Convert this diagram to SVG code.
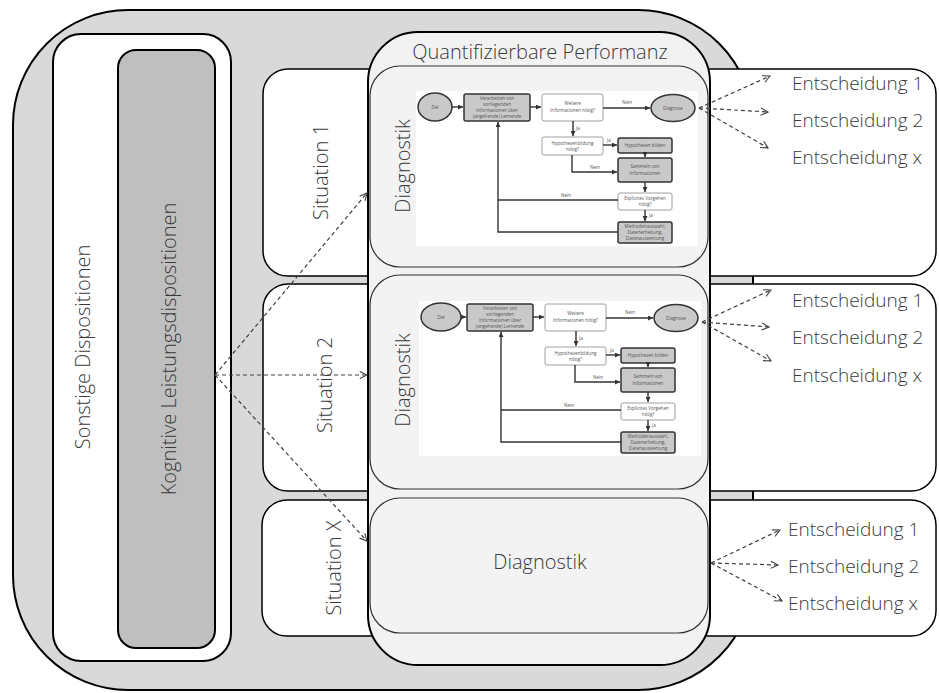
<svg xmlns="http://www.w3.org/2000/svg" width="939" height="693" viewBox="0 0 939 693">
  <style>
    .lbl { font-family: "Open Sans", "Noto Sans", "Liberation Sans", sans-serif; font-weight: 300; fill: #3a3a3a; }
    .big { font-size: 20px; }
    .ent { font-size: 19px; }
    .sit { fill: #ffffff; stroke: #000000; stroke-width: 1.5; }
    .diag { fill: #f3f3f3; stroke: #333333; stroke-width: 1.2; }
    .dash { fill: none; stroke: #404040; stroke-width: 1.2; stroke-dasharray: 4 3; marker-end: url(#open); }
    .ft { font-family: "Open Sans", "Noto Sans", "Liberation Sans", sans-serif; font-size: 4.6px; fill: #555555; text-anchor: middle; }
    .fg { fill: #c9c9c9; stroke: #333333; stroke-width: 1.5; }
    .fw { fill: #ffffff; stroke: #a0a0a0; stroke-width: 1; }
    .fl { fill: none; stroke: #333333; stroke-width: 1.4; }
    .fla { fill: none; stroke: #333333; stroke-width: 1.4; marker-end: url(#solid); }
  </style>
  <defs>
    <marker id="open" viewBox="0 0 10 10" refX="9" refY="5" markerWidth="9" markerHeight="9" markerUnits="userSpaceOnUse" orient="auto">
      <path d="M1,1 L9,5 L1,9" fill="none" stroke="#404040" stroke-width="1.2"/>
    </marker>
    <marker id="solid" viewBox="0 0 6 6" refX="6" refY="3" markerWidth="5" markerHeight="5" markerUnits="userSpaceOnUse" orient="auto">
      <path d="M0,0 L6,3 L0,6 z" fill="#333333"/>
    </marker>
  </defs>

  <!-- outer frame -->
  <g id="frame">
    <rect x="13" y="10" width="740" height="680" rx="115" fill="#d9d9d9" stroke="#000" stroke-width="2"/>
  </g>

  <!-- dispositions -->
  <g id="sonstige">
    <rect x="53" y="34" width="178" height="627" rx="28" fill="#ffffff" stroke="#000" stroke-width="2"/>
    <text class="lbl big" transform="translate(82,347) rotate(-90)" text-anchor="middle" dominant-baseline="central">Sonstige Dispositionen</text>
  </g>
  <g id="kognitiv">
    <rect x="118" y="50" width="97" height="598" rx="18" fill="#bfbfbf" stroke="#000" stroke-width="2"/>
    <text class="lbl big" transform="translate(168,349) rotate(-90)" text-anchor="middle" dominant-baseline="central">Kognitive Leistungsdispositionen</text>
  </g>

  <!-- situation rows -->
  <g id="situation1">
    <rect class="sit" x="263" y="69" width="673" height="207" rx="25"/>
    <text class="lbl big" transform="translate(320,172) rotate(-90)" text-anchor="middle" dominant-baseline="central">Situation 1</text>
  </g>
  <g id="situation2">
    <rect class="sit" x="263" y="284" width="673" height="207" rx="25"/>
    <text class="lbl big" transform="translate(324,385) rotate(-90)" text-anchor="middle" dominant-baseline="central">Situation 2</text>
  </g>
  <g id="situationX">
    <rect class="sit" x="262" y="500" width="674" height="136" rx="25"/>
    <text class="lbl big" transform="translate(333,568) rotate(-90)" text-anchor="middle" dominant-baseline="central">Situation X</text>
  </g>

  <!-- performance column -->
  <g id="performanz">
    <rect x="368" y="32" width="342" height="633" rx="50" fill="#f2f2f2" stroke="#000" stroke-width="2"/>
    <text class="lbl big" x="540" y="59" text-anchor="middle">Quantifizierbare Performanz</text>
  </g>

  <g id="diagnostik1">
    <rect class="diag" x="370" y="66" width="338" height="201" rx="30"/>
    <text class="lbl big" transform="translate(402,166) rotate(-90)" text-anchor="middle" dominant-baseline="central">Diagnostik</text>
  </g>
  <g id="diagnostik2">
    <rect class="diag" x="370" y="275" width="338" height="214" rx="30"/>
    <text class="lbl big" transform="translate(402,380) rotate(-90)" text-anchor="middle" dominant-baseline="central">Diagnostik</text>
  </g>
  <g id="diagnostik3">
    <rect class="diag" x="370" y="498" width="338" height="135" rx="30"/>
    <text class="lbl big" x="540" y="569" text-anchor="middle">Diagnostik</text>
  </g>

  <!-- diagnostic process chart, first copy -->
  <g id="ablauf1">
    <rect x="416" y="91" width="282" height="155" fill="#ffffff"/>
    <g id="ablauf1-ziel"><ellipse class="fg" cx="435" cy="107" rx="17" ry="14" stroke-width="1"/><text class="ft" x="435" y="108.5">Ziel</text></g>
    <g id="ablauf1-verarbeiten"><rect class="fg" x="464" y="94" width="66" height="27" rx="2"/>
      <text class="ft" x="497" y="100">Verarbeiten von</text><text class="ft" x="497" y="106">vorliegenden</text><text class="ft" x="497" y="112">Informationen über</text><text class="ft" x="497" y="118">(angehende) Lernende</text></g>
    <g id="ablauf1-weitere"><rect class="fw" x="542" y="94" width="61" height="27" rx="2"/>
      <text class="ft" x="572.5" y="105">Weitere</text><text class="ft" x="572.5" y="112">Informationen nötig?</text></g>
    <g id="ablauf1-diagnose"><ellipse class="fg" cx="673" cy="108" rx="22" ry="13.5" stroke-width="1.2"/><text class="ft" x="673" y="109.5">Diagnose</text></g>
    <g id="ablauf1-hypothesenbildung"><rect class="fw" x="542" y="137" width="61" height="18" rx="2"/>
      <text class="ft" x="572.5" y="144.5">Hypothesenbildung</text><text class="ft" x="572.5" y="151">nötig?</text></g>
    <g id="ablauf1-hypothesen"><rect class="fg" x="618" y="138" width="54" height="15" rx="2"/><text class="ft" x="645" y="147">Hypothesen bilden</text></g>
    <g id="ablauf1-sammeln"><rect class="fg" x="618" y="158" width="54" height="24" rx="2"/>
      <text class="ft" x="645" y="168">Sammeln von</text><text class="ft" x="645" y="175">Informationen</text></g>
    <g id="ablauf1-explizit"><rect class="fw" x="618" y="193" width="54" height="17" rx="2"/>
      <text class="ft" x="645" y="200">Explizites Vorgehen</text><text class="ft" x="645" y="206">nötig?</text></g>
    <g id="ablauf1-methoden"><rect class="fg" x="618" y="222" width="54" height="21" rx="2"/>
      <text class="ft" x="645" y="228">Methodenauswahl,</text><text class="ft" x="645" y="234">Datenerhebung,</text><text class="ft" x="645" y="240">Datenauswertung</text></g>
    <g id="ablauf1-kanten">
      <path class="fla" d="M452,107 H463"/>
      <path class="fla" d="M530,107 H541"/>
      <path class="fla" d="M603,108 H650"/>
      <path class="fla" d="M573,121 V136"/>
      <path class="fla" d="M603,145 H617"/>
      <path class="fla" d="M645,153 V157"/>
      <path class="fla" d="M572,155 V172 H617"/>
      <path class="fla" d="M645,182 V192"/>
      <path class="fl" d="M618,200 H498"/>
      <path class="fla" d="M645,210 V221"/>
      <path class="fla" d="M618,232 H498 V122"/>
      <text class="ft" x="627" y="104">Nein</text>
      <text class="ft" x="578" y="130">Ja</text>
      <text class="ft" x="609" y="142">Ja</text>
      <text class="ft" x="595" y="169">Nein</text>
      <text class="ft" x="566" y="197">Nein</text>
      <text class="ft" x="651" y="217">Ja</text>
    </g>
  </g>

  <!-- diagnostic process chart, second copy -->
  <g id="ablauf2" transform="translate(3,210)">
    <rect x="416" y="91" width="282" height="155" fill="#ffffff"/>
    <g id="ablauf2-ziel"><ellipse class="fg" cx="438" cy="107" rx="20" ry="14" stroke-width="1"/><text class="ft" x="438" y="108.5">Ziel</text></g>
    <g id="ablauf2-verarbeiten"><rect class="fg" x="464" y="94" width="66" height="27" rx="2"/>
      <text class="ft" x="497" y="100">Verarbeiten von</text><text class="ft" x="497" y="106">vorliegenden</text><text class="ft" x="497" y="112">Informationen über</text><text class="ft" x="497" y="118">(angehende) Lernende</text></g>
    <g id="ablauf2-weitere"><rect class="fw" x="542" y="94" width="61" height="27" rx="2"/>
      <text class="ft" x="572.5" y="105">Weitere</text><text class="ft" x="572.5" y="112">Informationen nötig?</text></g>
    <g id="ablauf2-diagnose"><ellipse class="fg" cx="673" cy="108" rx="22" ry="13.5" stroke-width="1.2"/><text class="ft" x="673" y="109.5">Diagnose</text></g>
    <g id="ablauf2-hypothesenbildung"><rect class="fw" x="542" y="137" width="61" height="18" rx="2"/>
      <text class="ft" x="572.5" y="144.5">Hypothesenbildung</text><text class="ft" x="572.5" y="151">nötig?</text></g>
    <g id="ablauf2-hypothesen"><rect class="fg" x="618" y="138" width="54" height="15" rx="2"/><text class="ft" x="645" y="147">Hypothesen bilden</text></g>
    <g id="ablauf2-sammeln"><rect class="fg" x="618" y="158" width="54" height="24" rx="2"/>
      <text class="ft" x="645" y="168">Sammeln von</text><text class="ft" x="645" y="175">Informationen</text></g>
    <g id="ablauf2-explizit"><rect class="fw" x="618" y="193" width="54" height="17" rx="2"/>
      <text class="ft" x="645" y="200">Explizites Vorgehen</text><text class="ft" x="645" y="206">nötig?</text></g>
    <g id="ablauf2-methoden"><rect class="fg" x="618" y="222" width="54" height="21" rx="2"/>
      <text class="ft" x="645" y="228">Methodenauswahl,</text><text class="ft" x="645" y="234">Datenerhebung,</text><text class="ft" x="645" y="240">Datenauswertung</text></g>
    <g id="ablauf2-kanten">
      <path class="fla" d="M458,107 H463"/>
      <path class="fla" d="M530,107 H541"/>
      <path class="fla" d="M603,108 H650"/>
      <path class="fla" d="M573,121 V136"/>
      <path class="fla" d="M603,145 H617"/>
      <path class="fla" d="M645,153 V157"/>
      <path class="fla" d="M572,155 V172 H617"/>
      <path class="fla" d="M645,182 V192"/>
      <path class="fl" d="M618,200 H498"/>
      <path class="fla" d="M645,210 V221"/>
      <path class="fla" d="M618,232 H498 V122"/>
      <text class="ft" x="627" y="104">Nein</text>
      <text class="ft" x="578" y="130">Ja</text>
      <text class="ft" x="609" y="142">Ja</text>
      <text class="ft" x="595" y="169">Nein</text>
      <text class="ft" x="566" y="197">Nein</text>
      <text class="ft" x="651" y="217">Ja</text>
    </g>
  </g>

  <!-- decisions -->
  <g id="entscheidungen1">
    <text class="lbl ent" x="792" y="90">Entscheidung 1</text>
    <text class="lbl ent" x="792" y="127">Entscheidung 2</text>
    <text class="lbl ent" x="792" y="164">Entscheidung x</text>
  </g>
  <g id="entscheidungen2">
    <text class="lbl ent" x="792" y="307">Entscheidung 1</text>
    <text class="lbl ent" x="792" y="344">Entscheidung 2</text>
    <text class="lbl ent" x="792" y="382">Entscheidung x</text>
  </g>
  <g id="entscheidungen3">
    <text class="lbl ent" x="788" y="536">Entscheidung 1</text>
    <text class="lbl ent" x="788" y="573">Entscheidung 2</text>
    <text class="lbl ent" x="788" y="610">Entscheidung x</text>
  </g>

  <!-- dashed connectors -->
  <g id="connectors">
    <path class="dash" d="M215,375 L367,193"/>
    <path class="dash" d="M215,375 L367,375"/>
    <path class="dash" d="M215,375 L367,541"/>

    <path class="dash" d="M699,108 L770,76"/>
    <path class="dash" d="M699,108 L768,112"/>
    <path class="dash" d="M699,108 L768,148"/>

    <path class="dash" d="M702,322 L771,290"/>
    <path class="dash" d="M702,322 L769,327"/>
    <path class="dash" d="M702,322 L771,361"/>

    <path class="dash" d="M711,563 L780,530"/>
    <path class="dash" d="M711,563 L778,565"/>
    <path class="dash" d="M711,563 L782,601"/>
  </g>
</svg>
